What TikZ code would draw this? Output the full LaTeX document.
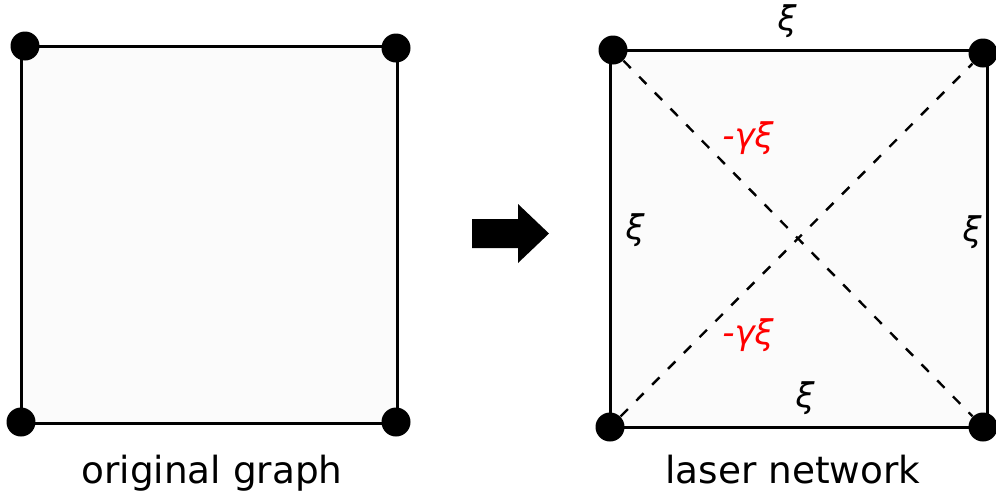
\documentclass[tikz,border=0pt]{standalone}
\usepackage{fontspec}
\setmainfont{DejaVu Sans}
\usepackage{xcolor}
\definecolor{panelfill}{HTML}{FBFBFB}
\tikzset{
  vertex/.style={circle, fill=black, inner sep=0pt, minimum size=14.5pt},
  edge/.style={line width=1.5pt, draw=black},
  coupling/.style={line width=1.2pt, draw=black, dash pattern=on 5.2pt off 6pt},
  weight/.style={font=\fontsize{17}{20}\selectfont\itshape, inner sep=0pt},
  negweight/.style={weight, text=red},
  caption/.style={font=\fontsize{18.7}{22}\selectfont, anchor=base, inner sep=0pt},
}
\begin{document}
\begin{tikzpicture}[x=0.5pt, y=-0.5pt]
  \useasboundingbox (0,0) rectangle (996,495);
  % original graph
  \coordinate (o1) at (21,46);
  \coordinate (o2) at (397,46);
  \coordinate (o3) at (397,423);
  \coordinate (o4) at (21,423);
  \fill[panelfill] (o1) rectangle (o3);
  \draw[edge] (o1) -- (o2) -- (o3) -- (o4) -- cycle;
  \node[vertex] (a1) at (25,46) {};
  \node[vertex] (a2) at (396,48) {};
  \node[vertex] (a3) at (396,422) {};
  \node[vertex] (a4) at (21,422) {};
  \node[caption] (orig) at (212,483) {original graph};
  % arrow
  \fill[black] (472,219) -- (518,219) -- (518,204) -- (549,233.5)
    -- (518,263) -- (518,248) -- (472,248) -- cycle;
  % laser network
  \coordinate (l1) at (610,50);
  \coordinate (l2) at (987,50);
  \coordinate (l3) at (987,427);
  \coordinate (l4) at (610,427);
  \fill[panelfill] (l1) rectangle (l3);
  \draw[edge] (l1) -- (l2) -- (l3) -- (l4) -- cycle;
  \node[vertex] (b1) at (613,50) {};
  \node[vertex] (b2) at (983,53) {};
  \node[vertex] (b3) at (983,427) {};
  \node[vertex] (b4) at (610,427) {};
  \draw[coupling] (b1) -- (b3);
  \draw[coupling] (b4) -- (b2);
  \node[weight] (wt) at (787,21) {ξ};
  \node[weight] (wb) at (805,398) {ξ};
  \node[weight] (wl) at (635,230) {ξ};
  \node[weight] (wr) at (972,232) {ξ};
  \node[negweight] (nt) at (748,138) {-γξ};
  \node[negweight] (nb) at (748,335) {-γξ};
  \node[caption] (laser) at (793,483) {laser network};
\end{tikzpicture}
\end{document}
